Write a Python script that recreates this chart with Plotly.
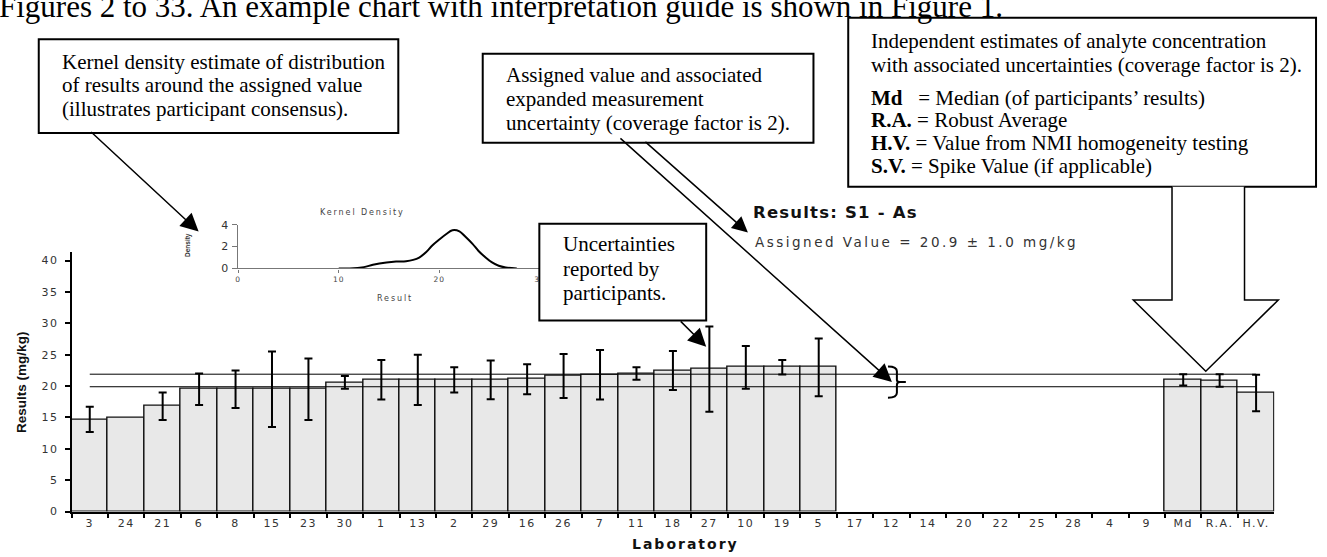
import plotly.graph_objects as go

W, H = 1327, 557

# ---------------- data ----------------
labs = ["3", "24", "21", "6", "8", "15", "23", "30", "1", "13", "2", "29", "16", "26", "7",
        "11", "18", "27", "10", "19", "5", "17", "12", "14", "20", "22", "25", "28", "4", "9",
        "Md", "R.A.", "H.V."]
results = [14.7, 14.9, 16.8, 19.5, 19.5, 19.5, 19.5, 20.6, 21.0, 21.0, 21.0, 21.0, 21.1, 21.6, 21.8,
           22.0, 22.5, 22.7, 23.0, 23.0, 23.0, None, None, None, None, None, None, None, None, None,
           21.0, 20.9, 18.9]
uncert = [2.0, None, 2.2, 2.5, 3.0, 6.0, 4.9, 1.0, 3.15, 4.0, 2.0, 3.1, 2.4, 3.5, 3.95,
          1.0, 3.1, 6.8, 3.4, 1.15, 4.6, None, None, None, None, None, None, None, None, None,
          0.9, 1.0, 2.9]
assigned = 20.9
assigned_u = 1.0
y_ticks = [0, 5, 10, 15, 20, 25, 30, 35, 40]

kde_x = [10, 11.1, 12.5, 13.4, 14.75, 15.7, 16.7, 17.4, 18.0, 18.7, 19.3, 20.0, 20.7, 21.3,
         22.0, 22.6, 23.3, 23.9, 24.6, 25.2, 25.9, 26.6, 27.7]
kde_y = [0, 0, 0.12, 0.33, 0.54, 0.63, 0.66, 0.78, 1.0, 1.5, 2.1, 2.65, 3.15, 3.5,
         3.4, 2.9, 2.25, 1.6, 1.0, 0.57, 0.24, 0.09, 0]
kde_xticks = [0, 10, 20, 30]
kde_yticks = [0, 2, 4]


# ---------------- helpers ----------------
def px(x):
    return x / W


def py(y):
    return 1 - y / H


def ls(t, s):
    return f'<span style="letter-spacing:{s}px">{t}</span>'


def path(cmds):
    out = []
    for c in cmds:
        if isinstance(c, str):
            out.append(c)
        else:
            out.append(f"{px(c[0]):.5f},{py(c[1]):.5f}")
    return " ".join(out)


SANS = "DejaVu Sans"
SERIF = "Liberation Serif"

fig = go.Figure()

fig.add_trace(go.Bar(
    x=labs, y=results,
    marker=dict(color="#e8e8e8", line=dict(color="#111", width=1.4)),
    hoverinfo="skip",
))

# error bars only where an uncertainty was reported
eb_x = [l for l, u in zip(labs, uncert) if u is not None]
eb_y = [r for r, u in zip(results, uncert) if u is not None]
eb_u = [u for u in uncert if u is not None]
fig.add_trace(go.Scatter(
    x=eb_x, y=eb_y, mode="markers", marker=dict(size=1, color="rgba(0,0,0,0)"),
    error_y=dict(type="data", array=eb_u, color="#000", thickness=2, width=4),
    hoverinfo="skip",
))

for v in (assigned + assigned_u, assigned - assigned_u):
    fig.add_trace(go.Scatter(x=[labs[0], labs[-1]], y=[v, v], mode="lines",
                             line=dict(color="#000", width=1), hoverinfo="skip"))

fig.add_trace(go.Scatter(x=kde_x, y=kde_y, mode="lines", xaxis="x2", yaxis="y2",
                         line=dict(color="#000", width=2, shape="spline"), hoverinfo="skip"))

tickfont = dict(family=SANS, size=11, color="#333")

fig.update_layout(
    width=W, height=H, margin=dict(l=0, r=0, t=0, b=0),
    paper_bgcolor="white", plot_bgcolor="white", showlegend=False, bargap=0,
    xaxis=dict(domain=[px(69), px(1280)], type="category", range=[-0.5, 32.5],
               categoryorder="array", categoryarray=labs,
               tickmode="array", tickvals=labs, ticktext=[ls(l, 1.5) for l in labs],
               tickangle=0,
               tickson="boundaries", ticks="outside", ticklen=5, tickwidth=1.5, tickcolor="#000",
               showline=True, linecolor="#000", linewidth=1.5, showgrid=False, zeroline=False,
               tickfont=tickfont),
    yaxis=dict(domain=[py(517.7), py(251.7)], range=[0, 41.4],
               tickmode="array", tickvals=y_ticks, ticktext=[ls(str(v), 1.5) for v in y_ticks],
               ticks="outside", ticklen=5, tickwidth=1.5, tickcolor="#000",
               showline=True, linecolor="#000", linewidth=1.5, showgrid=False, zeroline=False,
               tickfont=tickfont, ticklabelstandoff=4),
    xaxis2=dict(domain=[px(236.7), px(540.6)], anchor="y2", range=[0, 30],
                tickmode="array", tickvals=kde_xticks, ticktext=[ls(str(v), 1) for v in kde_xticks],
                tickangle=0,
                ticks="outside", ticklen=3, tickwidth=1, tickcolor="#777",
                showline=True, linecolor="#777", linewidth=1.3, showgrid=False, zeroline=False,
                tickfont=dict(family=SANS, size=7.5, color="#444")),
    yaxis2=dict(domain=[py(268.7), py(224)], anchor="x2", range=[0, 4],
                tickmode="array", tickvals=kde_yticks, ticktext=[ls(str(v), 1.5) for v in kde_yticks],
                ticks="outside", ticklen=5, tickwidth=1, tickcolor="#777",
                showline=True, linecolor="#777", linewidth=1.3, showgrid=False, zeroline=False,
                tickfont=dict(family=SANS, size=11, color="#333")),
)

shapes = []
# callout boxes
for (x0, y0, x1, y1) in [(36, 34, 398, 130), (483, 49, 816, 140), (851, 12, 1322, 185), (540, 223, 708, 322)]:
    shapes.append(dict(type="rect", xref="paper", yref="paper", x0=px(x0), x1=px(x1), y0=py(y1), y1=py(y0),
                       fillcolor="white", line=dict(color="#000", width=2), layer="above"))
# big hollow arrow
shapes.append(dict(type="path", xref="paper", yref="paper", layer="above",
                   path=path(["M", (1177, 185), "L", (1177, 301), "L", (1138, 301), "L", (1211, 374),
                              "L", (1284, 301), "L", (1250, 301), "L", (1250, 185)]),
                   fillcolor="white", line=dict(color="#000", width=1.5)))
# bracket
shapes.append(dict(type="path", xref="paper", yref="paper", layer="above",
                   path=path(["M", (891, 369), "Q", (900, 369), (900, 374), "L", (900, 383),
                              "Q", (900, 385), (903, 385), "L", (909, 385),
                              "M", (903, 385), "Q", (900, 385), (900, 388), "L", (900, 396),
                              "Q", (900, 401), (891, 401)]),
                   line=dict(color="#000", width=2)))
fig.update_layout(shapes=shapes)

anns = []


def text(t, x, y, size, family, color="#000", xanchor="left", textangle=0):
    anns.append(dict(text=t, x=px(x), y=py(y), xref="paper", yref="paper", showarrow=False,
                     xanchor=xanchor, yanchor="middle", textangle=textangle,
                     font=dict(family=family, size=size, color=color)))


def arrow(tail, tip, size=2.4, width=1.5):
    anns.append(dict(text="", x=px(tip[0]), y=py(tip[1]), xref="paper", yref="paper",
                     ax=tail[0] - tip[0], ay=tail[1] - tip[1], axref="pixel", ayref="pixel",
                     showarrow=True, arrowhead=2, arrowsize=size, arrowwidth=width, arrowcolor="#000"))


# page text (cut at top in the source)
text("Figures 2 to 33. An example chart with interpretation guide is shown in Figure 1.",
     -6, 1, 31, SERIF)

# box 1
for t, y in [("Kernel density estimate of distribution", 57),
             ("of results around the assigned value", 81),
             ("(illustrates participant consensus).", 105)]:
    text(t, 57, y, 21, SERIF)
# box 2
for t, y in [("Assigned value and associated", 70.5),
             ("expanded measurement", 95),
             ("uncertainty (coverage factor is 2).", 119.5)]:
    text(t, 504, y, 21, SERIF)
# box 3
nb = "\u00a0"
for t, y in [("Independent estimates of analyte concentration", 36),
             ("with associated uncertainties (coverage factor is 2).", 60.5),
             ("<b>Md</b>" + nb * 3 + "= Median (of participants\u2019 results)", 94),
             ("<b>R.A.</b> = Robust Average", 117),
             ("<b>H.V.</b> = Value from NMI homogeneity testing", 140.5),
             ("<b>S.V.</b> = Spike Value (if applicable)", 164)]:
    text(t, 872, y, 21, SERIF)
# box 4
for t, y in [("Uncertainties", 244), ("reported by", 269), ("participants.", 294)]:
    text(t, 562, y, 21, SERIF)

# chart texts
text("<b>" + ls("Results: S1 - As", 1.2) + "</b>", 753, 211.5, 16.5, SANS, color="#111")
text(ls("Assigned Value = 20.9 \u00b1 1.0 mg/kg", 2.5), 755, 241.5, 13.5, SANS, color="#333")
text("<b>" + ls("Laboratory", 2) + "</b>", 687, 550.5, 14, SANS, color="#111", xanchor="center")
text("<b>Results (mg/kg)</b>", 18, 385, 13.5, "Liberation Sans", color="#111", xanchor="center", textangle=-90)
text(ls("Kernel Density", 1.9), 362, 211, 8, SANS, color="#444", xanchor="center")
text(ls("Result", 1.9), 395, 300, 8, SANS, color="#444", xanchor="center")
text("<b>Density</b>", 187, 245, 6.5, "Liberation Sans", color="#333", xanchor="center", textangle=-90)

# arrows
arrow((88, 130), (197, 231))
arrow((681, 322), (708, 349))
arrow((646, 140), (750, 232), size=2.1)
arrow((622, 140), (895, 385))

fig.update_layout(annotations=anns)

fig.write_html("out.html")
